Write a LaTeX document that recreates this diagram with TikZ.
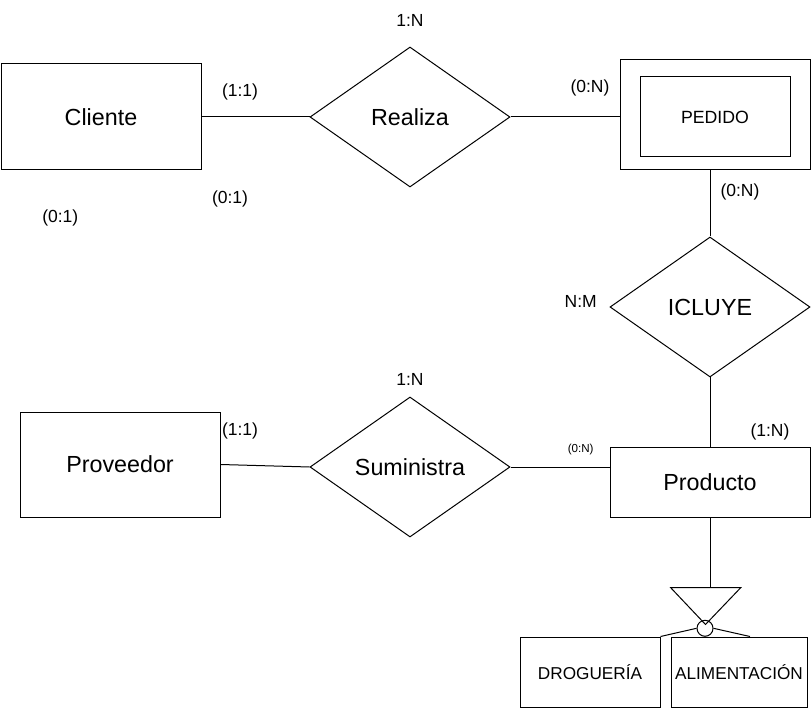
\documentclass[tikz,border=0pt]{standalone}
\usepackage{fontspec}
\setmainfont{Liberation Sans}
\usetikzlibrary{shapes.geometric,calc}
\begin{document}
\begin{tikzpicture}[
              x=1pt, y=-1pt,
              line width=1pt,
              entity/.style={draw,rectangle,inner sep=0pt,font=\fontsize{23.3}{26}\selectfont},
              relation/.style={draw,diamond,inner sep=0pt,minimum width=200pt,minimum height=140pt,font=\fontsize{23.3}{26}\selectfont},
              subentity/.style={draw,rectangle,inner sep=0pt,minimum height=70pt,font=\fontsize{17.2}{20}\selectfont},
              card/.style={inner sep=0pt,font=\fontsize{17.5}{20}\selectfont},
              smallcard/.style={inner sep=0pt,font=\fontsize{11.6}{13}\selectfont},
              link/.style={line width=1pt}
            ]
            \useasboundingbox (0,0) rectangle (811,708);

            % Entity: Cliente
            \node[entity,minimum width=200pt,minimum height=106pt] (cliente) at (101,117) {Cliente};

            % Relation: Realiza
            \node[relation] (realiza) at (410,117) {Realiza};

            % Weak entity: PEDIDO
            \node[draw,rectangle,minimum width=190pt,minimum height=110pt] (pedido) at (715,115) {};
            \node[draw,rectangle,minimum width=150pt,minimum height=80pt,inner sep=0pt,font=\fontsize{17.7}{20}\selectfont] (pedidoIn) at (715,117) {PEDIDO};

            % Relation: ICLUYE
            \node[relation] (icluye) at (710,307) {ICLUYE};

            % Entity: Producto
            \node[entity,minimum width=200pt,minimum height=70pt] (producto) at (710,482) {Producto};

            % Relation: Suministra
            \node[relation] (suministra) at (410,467) {Suministra};

            % Entity: Proveedor
            \node[entity,minimum width=200pt,minimum height=105pt] (proveedor) at (120,464.5) {Proveedor};

            % Specialisation
            \coordinate (isaL) at (670.7,587.7);
            \coordinate (isaR) at (740.7,587.7);
            \coordinate (isaP) at (705.5,624.5);
            \draw (isaL) -- (isaR) -- (isaP) -- cycle;
            \node[draw,circle,minimum size=16pt,inner sep=0pt] (isacirc) at (705,628.3) {};

            \node[subentity,minimum width=140pt] (drogueria) at (590,672) {DROGUERÍA};
            \node[subentity,minimum width=136pt] (alimentacion) at (739,672) {ALIMENTACIÓN};

            % Connectors
            \draw[link] (cliente.east) -- (realiza.west);
            \draw[link] (realiza.east) -- (realiza.east -| pedido.west);
            \draw[link] (pedido.south -| icluye.north) -- (icluye.north);
            \draw[link] (icluye.south) -- (producto.north);
            \draw[link] (proveedor.east) -- (suministra.west);
            \draw[link] (suministra.east) -- (suministra.east -| producto.west);
            \draw[link] (producto.south) -- (producto.south |- isaL);
            \draw[link] (isacirc.west) -- (drogueria.north east);
            \draw[link] (isacirc.east) -- ($(alimentacion.north west)!.58!(alimentacion.north east)$);

            % Cardinalities
            \node[card] (cardRealiza) at (410,20.5) {1:N};
            \node[card] (cardClienteA) at (240,91.5) {(1:1)};
            \node[card] (cardPedidoA) at (590,88.3) {(0:N)};
            \node[card] (cardClienteB) at (230,199) {(0:1)};
            \node[card] (cardClienteC) at (60.3,218) {(0:1)};
            \node[card] (cardPedidoB) at (740,191.7) {(0:N)};
            \node[card] (cardIcluye) at (580.7,301) {N:M};
            \node[card] (cardSuministra) at (410,379) {1:N};
            \node[card] (cardProveedor) at (240,431) {(1:1)};
            \node[smallcard] (cardProductoA) at (580.7,449.3) {(0:N)};
            \node[card] (cardProductoB) at (770,431.7) {(1:N)};

            \end{tikzpicture}
\end{document}
